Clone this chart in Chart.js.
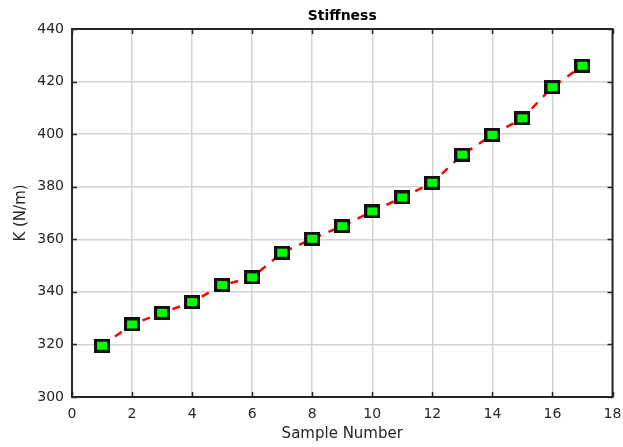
<!DOCTYPE html>
<html>
<head>
<meta charset="utf-8">
<script src="https://cdn.jsdelivr.net/npm/chart.js@4"></script>
<style>
  html, body { margin: 0; padding: 0; background: #fff; }
  #stiffChart { display: block; }
</style>
</head>
<body>
<canvas id="stiffChart" width="623" height="447"></canvas>
<script>
const samples = [1, 2, 3, 4, 5, 6, 7, 8, 9, 10, 11, 12, 13, 14, 15, 16, 17];
const stiffness = [319.5, 327.6, 332.0, 336.1, 342.6, 345.5, 354.9, 360.2, 365.0,
                   370.6, 375.9, 381.5, 392.2, 399.7, 406.0, 417.9, 426.0];
const xTicks = [0, 2, 4, 6, 8, 10, 12, 14, 16, 18];
const yTicks = [300, 320, 340, 360, 380, 400, 420, 440];

const axisColor = '#262626';
const fontFamily = '"DejaVu Sans", sans-serif';

// square marker: black frame, green face
const marker = document.createElement('canvas');
marker.width = 16;
marker.height = 14;
const mctx = marker.getContext('2d');
mctx.fillStyle = '#111';
mctx.fillRect(0, 0, 16, 14);
mctx.fillStyle = '#00ff00';
mctx.fillRect(3, 3, 10, 8);

// box around the axes, inward ticks on all four sides, and the title
const framePlugin = {
    id: 'frame',
    afterDraw(chart) {
        const { ctx, chartArea: a, scales } = chart;
        const len = 5;
        ctx.save();
        ctx.strokeStyle = axisColor;
        ctx.lineWidth = 1.5;
        ctx.beginPath();
        xTicks.forEach(v => {
            const px = Math.round(scales.x.getPixelForValue(v)) + 0.5;
            ctx.moveTo(px, a.bottom); ctx.lineTo(px, a.bottom - len);
            ctx.moveTo(px, a.top); ctx.lineTo(px, a.top + len);
        });
        yTicks.forEach(v => {
            const py = Math.round(scales.y.getPixelForValue(v)) + 0.5;
            ctx.moveTo(a.left, py); ctx.lineTo(a.left + len, py);
            ctx.moveTo(a.right, py); ctx.lineTo(a.right - len, py);
        });
        ctx.stroke();
        ctx.lineWidth = 2;
        ctx.strokeRect(a.left, a.top, a.right - a.left, a.bottom - a.top);

        ctx.fillStyle = '#000';
        ctx.font = 'bold 14px ' + fontFamily;
        ctx.textAlign = 'center';
        ctx.textBaseline = 'middle';
        ctx.fillText('Stiffness', (a.left + a.right) / 2, 16.5);
        ctx.restore();
    }
};

new Chart(document.getElementById('stiffChart'), {
    type: 'line',
    data: {
        datasets: [{
            data: samples.map((s, i) => ({ x: s, y: stiffness[i] })),
            borderColor: '#ff0000',
            borderWidth: 2.5,
            borderDash: [8, 8],
            tension: 0,
            fill: false,
            pointStyle: marker,
            pointRadius: 8,
            pointHoverRadius: 8
        }]
    },
    options: {
        responsive: false,
        devicePixelRatio: 1,
        animation: false,
        layout: { padding: { left: 0, right: 9, top: 29, bottom: 0 } },
        plugins: {
            legend: { display: false },
            title: { display: false },
            tooltip: { enabled: false }
        },
        scales: {
            x: {
                type: 'linear',
                min: 0,
                max: 18,
                afterBuildTicks: scale => { scale.ticks = xTicks.map(v => ({ value: v })); },
                afterFit: scale => {
                    scale.height = 50;
                    scale.paddingLeft = 0;
                    scale.paddingRight = 0;
                },
                grid: { color: '#d3d3d3', lineWidth: 1.5, drawTicks: false },
                border: { display: false },
                ticks: {
                    color: axisColor,
                    padding: 9,
                    maxRotation: 0,
                    font: { family: fontFamily, size: 14 }
                },
                title: {
                    display: true,
                    text: 'Sample Number',
                    color: axisColor,
                    padding: { top: 0, bottom: 4 },
                    font: { family: fontFamily, size: 15 }
                }
            },
            y: {
                type: 'linear',
                min: 300,
                max: 440,
                afterBuildTicks: scale => { scale.ticks = yTicks.map(v => ({ value: v })); },
                afterFit: scale => {
                    scale.width = 72;
                    scale.paddingTop = 0;
                    scale.paddingBottom = 0;
                },
                grid: { color: '#d3d3d3', lineWidth: 1.5, drawTicks: false },
                border: { display: false },
                ticks: {
                    color: axisColor,
                    padding: 8,
                    font: { family: fontFamily, size: 14 }
                },
                title: {
                    display: true,
                    text: 'K (N/m)',
                    color: axisColor,
                    padding: { top: 12, bottom: 0 },
                    font: { family: fontFamily, size: 15 }
                }
            }
        }
    },
    plugins: [framePlugin]
});
</script>
</body>
</html>
